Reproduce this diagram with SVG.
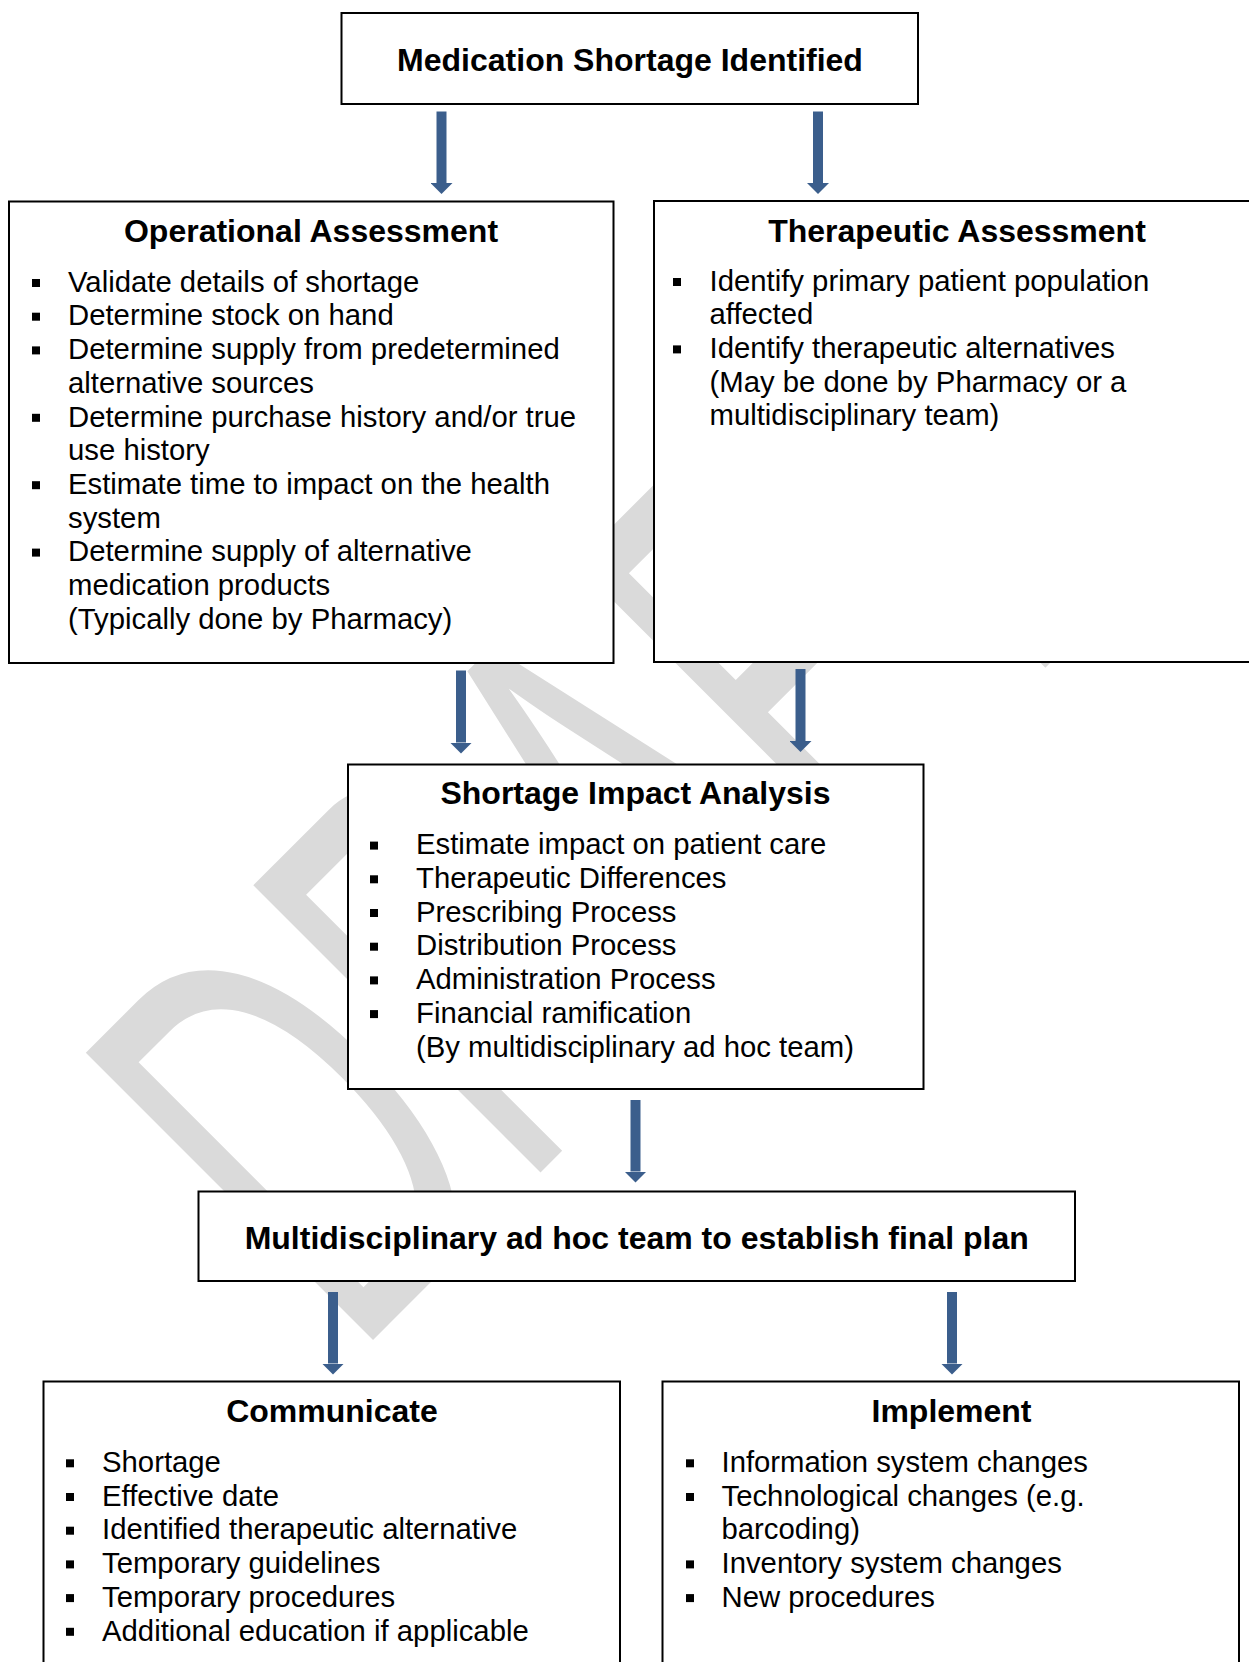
<svg xmlns="http://www.w3.org/2000/svg" width="1249" height="1662" viewBox="0 0 1249 1662">
<style>
.box{fill:#fff;stroke:#000;stroke-width:2}
.title{font-family:"Liberation Sans",Arial,sans-serif;font-weight:bold;font-size:32px;text-anchor:middle;fill:#000}
.body{font-family:"Liberation Sans",Arial,sans-serif;font-size:29.3px;fill:#000}
.bul{fill:#000}
.arrow{stroke:#3B5E8C;stroke-width:10;fill:none;marker-end:url(#ah)}
.wm{font-family:"Liberation Sans",Arial,sans-serif;font-size:328px;fill:#dadada}
</style>
<defs>
<marker id="ah" markerUnits="userSpaceOnUse" viewBox="0 -11 11 22" refX="0" refY="0" markerWidth="11" markerHeight="22" orient="auto">
<path d="M0,-11 L11,0 L0,11 Z" fill="#3B5E8C"/>
</marker>
</defs>
<rect x="0" y="0" width="1249" height="1662" fill="#fff"/>
<text class="wm" transform="translate(354,1359) rotate(-45) scale(1,1.8)">DRAFT</text>

<g id="n-identified">
<rect class="box" x="341.5" y="13" width="576.5" height="91"/>
<text class="title" x="630" y="71">Medication Shortage Identified</text>
</g>

<g id="n-operational">
<rect class="box" x="9" y="201.5" width="604.5" height="461.5"/>
<text class="title" x="311" y="241.5">Operational Assessment</text>
<rect class="bul" x="32" y="279" width="8" height="8"/>
<rect class="bul" x="32" y="312.7" width="8" height="8"/>
<rect class="bul" x="32" y="346.4" width="8" height="8"/>
<rect class="bul" x="32" y="413.8" width="8" height="8"/>
<rect class="bul" x="32" y="481.2" width="8" height="8"/>
<rect class="bul" x="32" y="548.6" width="8" height="8"/>
<text class="body" x="68" y="291.7">Validate details of shortage</text>
<text class="body" x="68" y="325.4">Determine stock on hand</text>
<text class="body" x="68" y="359.1">Determine supply from predetermined</text>
<text class="body" x="68" y="392.8">alternative sources</text>
<text class="body" x="68" y="426.5">Determine purchase history and/or true</text>
<text class="body" x="68" y="460.2">use history</text>
<text class="body" x="68" y="493.9">Estimate time to impact on the health</text>
<text class="body" x="68" y="527.6">system</text>
<text class="body" x="68" y="561.3">Determine supply of alternative</text>
<text class="body" x="68" y="595">medication products</text>
<text class="body" x="68" y="628.7">(Typically done by Pharmacy)</text>
</g>

<g id="n-therapeutic">
<rect class="box" x="654" y="201" width="610" height="461"/>
<text class="title" x="957" y="241.5">Therapeutic Assessment</text>
<rect class="bul" x="673" y="278" width="8" height="8"/>
<rect class="bul" x="673" y="345.4" width="8" height="8"/>
<text class="body" x="709.5" y="290.6">Identify primary patient population</text>
<text class="body" x="709.5" y="324.3">affected</text>
<text class="body" x="709.5" y="358">Identify therapeutic alternatives</text>
<text class="body" x="709.5" y="391.7">(May be done by Pharmacy or a</text>
<text class="body" x="709.5" y="425.4">multidisciplinary team)</text>
</g>

<g id="n-impact">
<rect class="box" x="348" y="764.5" width="575.5" height="324.5"/>
<text class="title" x="635.5" y="804">Shortage Impact Analysis</text>
<rect class="bul" x="370" y="841.6" width="8" height="8"/>
<rect class="bul" x="370" y="875.3" width="8" height="8"/>
<rect class="bul" x="370" y="909" width="8" height="8"/>
<rect class="bul" x="370" y="942.7" width="8" height="8"/>
<rect class="bul" x="370" y="976.4" width="8" height="8"/>
<rect class="bul" x="370" y="1010.1" width="8" height="8"/>
<text class="body" x="416" y="854.3">Estimate impact on patient care</text>
<text class="body" x="416" y="888">Therapeutic Differences</text>
<text class="body" x="416" y="921.7">Prescribing Process</text>
<text class="body" x="416" y="955.4">Distribution Process</text>
<text class="body" x="416" y="989.1">Administration Process</text>
<text class="body" x="416" y="1022.8">Financial ramification</text>
<text class="body" x="416" y="1056.5">(By multidisciplinary ad hoc team)</text>
</g>

<g id="n-team">
<rect class="box" x="198.5" y="1191.5" width="876.5" height="89.5"/>
<text class="title" x="636.7" y="1249">Multidisciplinary ad hoc team to establish final plan</text>
</g>

<g id="n-communicate">
<rect class="box" x="43.5" y="1381.5" width="576.5" height="320"/>
<text class="title" x="332" y="1422">Communicate</text>
<rect class="bul" x="66" y="1459.3" width="8" height="8"/>
<rect class="bul" x="66" y="1493" width="8" height="8"/>
<rect class="bul" x="66" y="1526.7" width="8" height="8"/>
<rect class="bul" x="66" y="1560.4" width="8" height="8"/>
<rect class="bul" x="66" y="1594.1" width="8" height="8"/>
<rect class="bul" x="66" y="1627.8" width="8" height="8"/>
<text class="body" x="102" y="1472">Shortage</text>
<text class="body" x="102" y="1505.7">Effective date</text>
<text class="body" x="102" y="1539.4">Identified therapeutic alternative</text>
<text class="body" x="102" y="1573.1">Temporary guidelines</text>
<text class="body" x="102" y="1606.8">Temporary procedures</text>
<text class="body" x="102" y="1640.5">Additional education if applicable</text>
</g>

<g id="n-implement">
<rect class="box" x="662.5" y="1381.5" width="576.5" height="320"/>
<text class="title" x="951.5" y="1422">Implement</text>
<rect class="bul" x="686" y="1459.3" width="8" height="8"/>
<rect class="bul" x="686" y="1493" width="8" height="8"/>
<rect class="bul" x="686" y="1560.4" width="8" height="8"/>
<rect class="bul" x="686" y="1594.1" width="8" height="8"/>
<text class="body" x="721.5" y="1472">Information system changes</text>
<text class="body" x="721.5" y="1505.7">Technological changes (e.g.</text>
<text class="body" x="721.5" y="1539.4">barcoding)</text>
<text class="body" x="721.5" y="1573.1">Inventory system changes</text>
<text class="body" x="721.5" y="1606.8">New procedures</text>
</g>

<g id="connectors">
<line class="arrow" x1="441.5" y1="111.5" x2="441.5" y2="183"/>
<line class="arrow" x1="818" y1="111.5" x2="818" y2="183"/>
<line class="arrow" x1="461" y1="670.5" x2="461" y2="742.5"/>
<line class="arrow" x1="800.5" y1="669" x2="800.5" y2="741"/>
<line class="arrow" x1="635.5" y1="1100" x2="635.5" y2="1171.5"/>
<line class="arrow" x1="333" y1="1292" x2="333" y2="1363.5"/>
<line class="arrow" x1="952" y1="1292" x2="952" y2="1363.5"/>
</g>
</svg>
